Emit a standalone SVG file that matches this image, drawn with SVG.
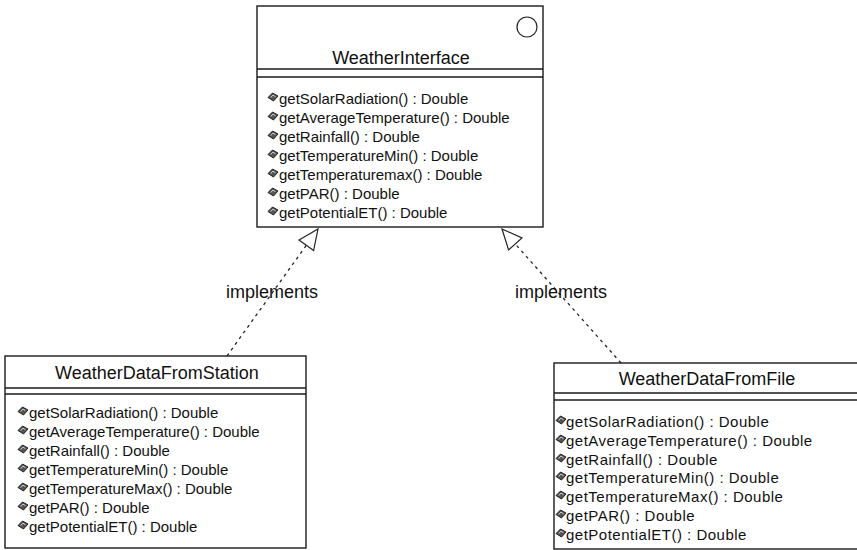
<svg xmlns="http://www.w3.org/2000/svg" xmlns:xlink="http://www.w3.org/1999/xlink" width="857" height="550" viewBox="0 0 857 550">
<style>
.box{fill:#fff;stroke:#1a1a1a;stroke-width:1.4}
.sep{stroke:#1a1a1a;stroke-width:1.3}
.title{font-family:"Liberation Sans",Arial,sans-serif;font-size:18px;fill:#111;text-anchor:middle}
.op{font-family:"Liberation Sans",Arial,sans-serif;font-size:15px;fill:#111}
.opw{letter-spacing:0.5px}
.lbl{font-family:"Liberation Sans",Arial,sans-serif;font-size:18px;fill:#111;text-anchor:middle}
.dash{fill:none;stroke:#222;stroke-width:1.3;stroke-dasharray:3 4}
.head{fill:#fff;stroke:#222;stroke-width:1.2}
</style>
<defs>
<g id="icon">
<path d="M0,4.5 L4.5,0 L10,3 L5.5,8 Z" fill="#555" stroke="#111" stroke-width="0.9"/>
<path d="M2.5,4.5 L5,2.2 L7.5,3.6" fill="none" stroke="#ddd" stroke-width="0.9"/>
</g>
</defs>
<rect width="857" height="550" fill="#fff"/>

<g id="WeatherInterface">
<rect class="box" x="257" y="6" width="286" height="221"/>
<circle cx="527" cy="27" r="10" fill="none" stroke="#222" stroke-width="1.2"/>
<text class="title" x="401" y="64">WeatherInterface</text>
<line class="sep" x1="257" y1="69" x2="543" y2="69"/>
<line class="sep" x1="257" y1="77" x2="543" y2="77"/>
<use xlink:href="#icon" x="268" y="93"/><text class="op" x="279" y="104">getSolarRadiation() : Double</text>
<use xlink:href="#icon" x="268" y="112"/><text class="op" x="279" y="123">getAverageTemperature() : Double</text>
<use xlink:href="#icon" x="268" y="131"/><text class="op" x="279" y="142">getRainfall() : Double</text>
<use xlink:href="#icon" x="268" y="150"/><text class="op" x="279" y="161">getTemperatureMin() : Double</text>
<use xlink:href="#icon" x="268" y="169"/><text class="op" x="279" y="180">getTemperaturemax() : Double</text>
<use xlink:href="#icon" x="268" y="188"/><text class="op" x="279" y="199">getPAR() : Double</text>
<use xlink:href="#icon" x="268" y="207"/><text class="op" x="279" y="218">getPotentialET() : Double</text>
</g>

<g id="WeatherDataFromStation">
<rect class="box" x="5" y="356" width="301" height="192"/>
<text class="title" x="157" y="379">WeatherDataFromStation</text>
<line class="sep" x1="5" y1="388" x2="306" y2="388"/>
<line class="sep" x1="5" y1="394" x2="306" y2="394"/>
<use xlink:href="#icon" x="18" y="407"/><text class="op" x="29" y="418">getSolarRadiation() : Double</text>
<use xlink:href="#icon" x="18" y="426"/><text class="op" x="29" y="437">getAverageTemperature() : Double</text>
<use xlink:href="#icon" x="18" y="445"/><text class="op" x="29" y="456">getRainfall() : Double</text>
<use xlink:href="#icon" x="18" y="464"/><text class="op" x="29" y="475">getTemperatureMin() : Double</text>
<use xlink:href="#icon" x="18" y="483"/><text class="op" x="29" y="494">getTemperatureMax() : Double</text>
<use xlink:href="#icon" x="18" y="502"/><text class="op" x="29" y="513">getPAR() : Double</text>
<use xlink:href="#icon" x="18" y="521"/><text class="op" x="29" y="532">getPotentialET() : Double</text>
</g>

<g id="WeatherDataFromFile">
<rect class="box" x="554" y="363" width="310" height="186"/>
<text class="title" x="707" y="385">WeatherDataFromFile</text>
<line class="sep" x1="554" y1="393" x2="864" y2="393"/>
<line class="sep" x1="554" y1="400" x2="864" y2="400"/>
<use xlink:href="#icon" x="556" y="416"/><text class="op opw" x="566" y="427">getSolarRadiation() : Double</text>
<use xlink:href="#icon" x="556" y="435"/><text class="op opw" x="566" y="446">getAverageTemperature() : Double</text>
<use xlink:href="#icon" x="556" y="454"/><text class="op opw" x="566" y="465">getRainfall() : Double</text>
<use xlink:href="#icon" x="556" y="472"/><text class="op opw" x="566" y="483">getTemperatureMin() : Double</text>
<use xlink:href="#icon" x="556" y="491"/><text class="op opw" x="566" y="502">getTemperatureMax() : Double</text>
<use xlink:href="#icon" x="556" y="510"/><text class="op opw" x="566" y="521">getPAR() : Double</text>
<use xlink:href="#icon" x="556" y="529"/><text class="op opw" x="566" y="540">getPotentialET() : Double</text>
</g>

<g id="connectors">
<line class="dash" x1="227" y1="356" x2="306.3" y2="245.3"/>
<polygon class="head" points="318,229 313.6,250.5 299,240.1"/>
<text class="lbl" x="272" y="298">implements</text>
<line class="dash" x1="621" y1="363" x2="515.3" y2="244"/>
<polygon class="head" points="502,229 522,238 508.6,250"/>
<text class="lbl" x="561" y="298">implements</text>
</g>
</svg>
